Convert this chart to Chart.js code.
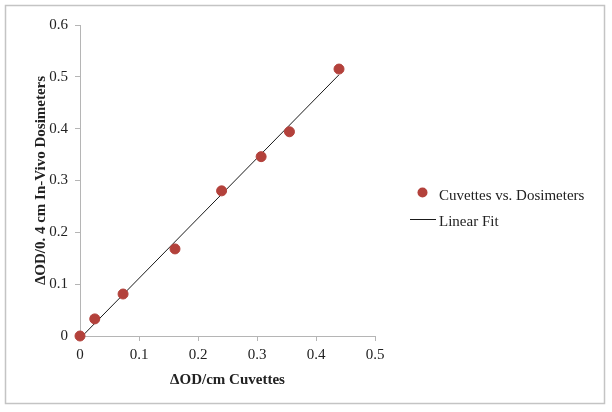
<!DOCTYPE html>
<html>
<head>
<meta charset="utf-8">
<script src="https://cdn.jsdelivr.net/npm/chart.js@4"></script>
<style>
html,body{margin:0;padding:0;background:#fff;}
#wrap{width:612px;height:412px;position:relative;}
</style>
</head>
<body>
<div id="wrap"><canvas id="c" width="612" height="412"></canvas></div>
<script>
const cuvettes = [0, 0.025, 0.073, 0.161, 0.240, 0.307, 0.355, 0.439];
const dosimeters = [0, 0.033, 0.081, 0.168, 0.280, 0.346, 0.394, 0.515];
const fitX = [0.004, 0.439];
const fitY = [0, 0.504];
const xTicks = [0, 0.1, 0.2, 0.3, 0.4, 0.5];
const yTicks = [0, 0.1, 0.2, 0.3, 0.4, 0.5, 0.6];
const seriesLabels = ['Cuvettes vs. Dosimeters', 'Linear Fit'];
const xTitle = 'ΔOD/cm Cuvettes';
const yTitle = 'ΔOD/0. 4 cm In-Vivo Dosimeters';

const pointColor = '#b3413b';
const serif = "'Liberation Serif', 'DejaVu Serif', serif";

const frame = {
  id: 'frame',
  beforeDraw(chart) {
    const ctx = chart.ctx;
    ctx.save();
    ctx.fillStyle = '#fff';
    ctx.fillRect(0, 0, chart.width, chart.height);
    ctx.strokeStyle = '#c4c4c4';
    ctx.lineWidth = 1.5;
    ctx.strokeRect(5.5, 5.5, 599, 398);
    ctx.restore();
  }
};

const customLegend = {
  id: 'customLegend',
  afterDraw(chart) {
    const ctx = chart.ctx;
    ctx.save();
    ctx.font = "15px " + serif;
    ctx.fillStyle = '#222';
    ctx.textBaseline = 'middle';
    ctx.textAlign = 'left';
    ctx.beginPath();
    ctx.arc(422.5, 192.5, 5, 0, Math.PI * 2);
    ctx.fillStyle = chart.data.datasets[0].backgroundColor;
    ctx.fill();
    ctx.fillStyle = '#222';
    ctx.fillText(chart.data.datasets[0].label, 439, 196);
    ctx.beginPath();
    ctx.moveTo(410, 219.5);
    ctx.lineTo(436, 219.5);
    ctx.strokeStyle = chart.data.datasets[1].borderColor;
    ctx.lineWidth = 1;
    ctx.stroke();
    ctx.fillText(chart.data.datasets[1].label, 439, 222);
    ctx.restore();
  }
};

new Chart(document.getElementById('c'), {
  type: 'scatter',
  data: {
    datasets: [
      {
        label: seriesLabels[0],
        data: cuvettes.map((x, i) => ({x: x, y: dosimeters[i]})),
        backgroundColor: pointColor,
        borderColor: pointColor,
        pointRadius: 5,
        pointHoverRadius: 5,
        clip: false,
        order: 1
      },
      {
        label: seriesLabels[1],
        type: 'line',
        data: fitX.map((x, i) => ({x: x, y: fitY[i]})),
        borderColor: '#1a1a1a',
        borderWidth: 1,
        pointRadius: 0,
        fill: false,
        order: 2
      }
    ]
  },
  plugins: [frame, customLegend],
  options: {
    responsive: false,
    animation: false,
    events: [],
    layout: {padding: {left: 28, top: 25, right: 237, bottom: 23}},
    plugins: {
      legend: {display: false},
      tooltip: {enabled: false}
    },
    scales: {
      x: {
        type: 'linear',
        min: 0, max: 0.5,
        afterBuildTicks(scale) { scale.ticks = xTicks.map(v => ({value: v})); },
        afterFit(scale) { scale.height = 389 - 336; },
        grid: {display: true, drawOnChartArea: false, drawTicks: true, tickLength: 5, color: '#b5b5b5'},
        border: {display: true, color: '#b5b5b5', width: 1},
        ticks: {
          font: {family: serif, size: 15},
          color: '#222',
          padding: 5,
          maxRotation: 0,
          callback: v => String(v)
        },
        title: {
          display: true,
          text: xTitle,
          font: {family: serif, size: 15, weight: 'bold'},
          color: '#222',
          padding: {top: 2, bottom: 0}
        }
      },
      y: {
        type: 'linear',
        min: 0, max: 0.6,
        afterBuildTicks(scale) { scale.ticks = yTicks.map(v => ({value: v})); },
        afterFit(scale) { scale.width = 80 - 28; },
        grid: {display: true, drawOnChartArea: false, drawTicks: true, tickLength: 5, color: '#b5b5b5'},
        border: {display: true, color: '#b5b5b5', width: 1},
        ticks: {
          font: {family: serif, size: 15},
          color: '#222',
          padding: 7,
          callback: v => String(v)
        },
        title: {
          display: true,
          text: yTitle,
          font: {family: serif, size: 15, weight: 'bold'},
          color: '#222',
          padding: {top: 4, bottom: 0}
        }
      }
    }
  }
});
</script>
</body>
</html>
